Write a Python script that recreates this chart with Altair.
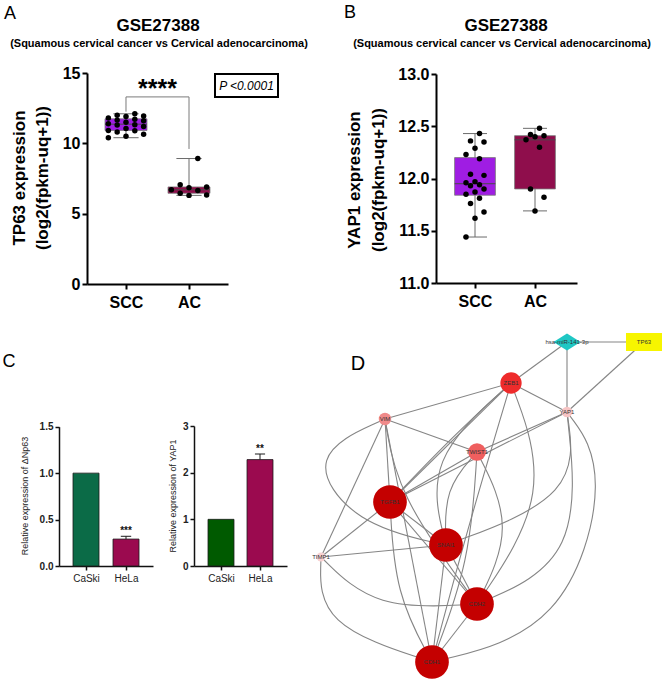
import altair as alt
import pandas as pd

W, H = 669, 686
FONT = "Liberation Sans"

# ---------------- data ----------------
groups = ["SCC", "AC"]
# Panel A: TP63 expression, GSE27388
tp63_scc = [12.10, 12.00, 11.95, 11.90, 11.80, 11.72, 11.65, 11.60, 11.50, 11.40,
            11.32, 11.30, 11.20, 11.05, 10.92, 10.90, 10.80, 10.65, 10.50, 10.40]
tp63_ac = [8.92, 7.05, 6.90, 6.85, 6.70, 6.65, 6.45, 6.32, 6.30]
# significance bracket (group position, value)
bracket_pos = [1, 1, 2, 2]
bracket_val = [12.25, 13.3, 13.3, 9.6]

# Panel B: YAP1 expression, GSE27388
yap1_scc = [12.43, 12.36, 12.35, 12.29, 12.23, 12.19, 12.04, 12.03, 11.97, 11.96,
            11.94, 11.93, 11.90, 11.87, 11.85, 11.81, 11.76, 11.68, 11.62, 11.44]
yap1_ac = [12.48, 12.42, 12.41, 12.40, 12.37, 12.30, 11.90, 11.82, 11.69]

# Panel C: qPCR
cell_lines = ["CaSki", "HeLa"]
np63_mean = [1.0, 0.29]
np63_sem = [0.0, 0.03]
np63_sig = ["", "***"]
yap1q_mean = [1.0, 2.28]
yap1q_sem = [0.0, 0.12]
yap1q_sig = ["", "**"]

# Panel D: network (layout coordinates)
node_names = ["hsa-miR-141-3p", "TP63", "ZEB1", "YAP1", "VIM", "TWIST1",
              "TGFB1", "SNAI1", "TIMP1", "CDH2", "CDH1"]
node_kind = ["miRNA", "TF", "gene", "gene", "gene", "gene",
             "gene", "gene", "gene", "gene", "gene"]
node_x = [267, 344, 211, 267, 85, 177, 90, 146, 21, 177, 132]
node_y = [22, 22, 63, 92, 99, 132, 182, 225, 237, 284, 342]
node_score = [0, 0, 5, 2, 3, 4, 6, 6, 1, 6, 6]
# (source, target, bend handles of the edge in layout coordinates)
edges = [
    ("hsa-miR-141-3p", "TP63", []),
    ("hsa-miR-141-3p", "ZEB1", []),
    ("hsa-miR-141-3p", "YAP1", []),
    ("TP63", "YAP1", []),
    ("ZEB1", "VIM", []),
    ("ZEB1", "YAP1", []),
    ("ZEB1", "TGFB1", []),
    ("ZEB1", "TGFB1", [[153, 116]]),
    ("ZEB1", "SNAI1", [[125, 140]]),
    ("ZEB1", "CDH1", [[166, 214]]),
    ("ZEB1", "CDH2", [[252, 173]]),
    ("VIM", "TWIST1", []),
    ("VIM", "TIMP1", []),
    ("VIM", "TGFB1", []),
    ("VIM", "CDH1", []),
    ("VIM", "CDH2", [[97, 174]]),
    ("VIM", "SNAI1", [[5, 135], [55, 205]]),
    ("YAP1", "TWIST1", []),
    ("YAP1", "TGFB1", []),
    ("YAP1", "SNAI1", [[279, 176]]),
    ("YAP1", "CDH2", [[282, 239]]),
    ("YAP1", "CDH1", [[310, 150], [265, 310]]),
    ("TWIST1", "TGFB1", []),
    ("TWIST1", "SNAI1", [[144, 169]]),
    ("TWIST1", "CDH2", [[215, 207]]),
    ("TWIST1", "CDH1", [[170, 242]]),
    ("TGFB1", "SNAI1", []),
    ("TGFB1", "TIMP1", []),
    ("TGFB1", "CDH2", []),
    ("TGFB1", "CDH1", [[95, 274]]),
    ("SNAI1", "TIMP1", []),
    ("SNAI1", "CDH2", []),
    ("SNAI1", "CDH1", []),
    ("CDH2", "CDH1", []),
    ("TIMP1", "CDH2", [[75, 290]]),
    ("TIMP1", "CDH1", [[19, 305]]),
]

BLANK = alt.Data(values=[{}])


def txt(text, x, y, size, weight="normal", angle=0, align="center",
        baseline="middle", style="normal", color="black"):
    return alt.Chart(BLANK).mark_text(
        text=text, fontSize=size, fontWeight=weight, angle=angle, align=align,
        baseline=baseline, font=FONT, fontStyle=style, color=color
    ).encode(x=alt.value(x), y=alt.value(y))


# ---------------- box plot panels (A, B) ----------------
def box_panel(scc, ac, xdom, xr, ydom, yr, yticks, yfmt, half, amp, colors):
    df = pd.DataFrame({"group": [groups[0]] * len(scc) + [groups[1]] * len(ac),
                       "value": list(scc) + list(ac)})
    df["pos"] = df["group"].map({groups[0]: 1, groups[1]: 2})
    xs = alt.Scale(domain=xdom, range=xr, nice=False, zero=False)
    ys = alt.Scale(domain=ydom, range=yr, nice=False, zero=False)
    xaxis = alt.Axis(orient="bottom", offset=yr[0] - H, values=[1, 2],
                     labelExpr=f"datum.value == 1 ? '{groups[0]}' : '{groups[1]}'",
                     title=None, grid=False, domainColor="black", domainWidth=2,
                     tickColor="black", tickWidth=2, tickSize=5, labelFont=FONT,
                     labelFontSize=16, labelFontWeight="bold", labelColor="black",
                     labelPadding=5, labelFlush=False, labelOverlap=False)
    yaxis = alt.Axis(orient="left", offset=-xr[0], values=yticks, format=yfmt,
                     title=None, grid=False, domainColor="black", domainWidth=2,
                     tickColor="black", tickWidth=2, tickSize=5, labelFont=FONT,
                     labelFontSize=16, labelFontWeight="bold", labelColor="black",
                     labelPadding=2, labelFlush=False, labelOverlap=False)
    color = alt.Color("group:N", scale=alt.Scale(domain=groups, range=colors), legend=None)

    stats = alt.Chart(df).transform_aggregate(
        q1="q1(value)", q3="q3(value)", med="median(value)",
        lo="min(value)", hi="max(value)", groupby=["group", "pos"]
    ).transform_calculate(
        xl=f"datum.pos - {half}", xh=f"datum.pos + {half}",
        cl="datum.pos - 0.2", ch="datum.pos + 0.2"
    )
    whisker = stats.mark_rule(color="#6b6b6b", strokeWidth=1).encode(
        x=alt.X("pos:Q", scale=xs, axis=xaxis),
        y=alt.Y("lo:Q", scale=ys, axis=yaxis), y2="hi:Q")
    cap_lo = stats.mark_rule(color="#6b6b6b", strokeWidth=1).encode(
        x=alt.X("cl:Q", scale=xs, axis=xaxis), x2="ch:Q",
        y=alt.Y("lo:Q", scale=ys, axis=yaxis))
    cap_hi = stats.mark_rule(color="#6b6b6b", strokeWidth=1).encode(
        x=alt.X("cl:Q", scale=xs, axis=xaxis), x2="ch:Q",
        y=alt.Y("hi:Q", scale=ys, axis=yaxis))
    box = stats.mark_rect(stroke="#7a7a7a", strokeWidth=0.8).encode(
        x=alt.X("xl:Q", scale=xs, axis=xaxis), x2="xh:Q",
        y=alt.Y("q1:Q", scale=ys, axis=yaxis), y2="q3:Q", color=color)
    median = stats.mark_rule(color="#4a4a4a", strokeWidth=1).encode(
        x=alt.X("xl:Q", scale=xs, axis=xaxis), x2="xh:Q",
        y=alt.Y("med:Q", scale=ys, axis=yaxis))
    pts = alt.Chart(df).transform_window(
        rn="row_number()", groupby=["group"],
        sort=[alt.SortField("value", order="descending")]
    ).transform_calculate(
        jx=f"datum.pos + {amp} * ((((datum.rn * 3) % 5) - 2) / 2)"
    ).mark_circle(size=30, color="black", opacity=1).encode(
        x=alt.X("jx:Q", scale=xs, axis=xaxis),
        y=alt.Y("value:Q", scale=ys, axis=yaxis))
    return alt.layer(whisker, cap_lo, cap_hi, box, median, pts), xs, ys, xaxis, yaxis


purple, maroon = "#9f1de3", "#8f0e4c"
panelA, xsA, ysA, xaA, yaA = box_panel(
    tp63_scc, tp63_ac, [0.381, 2.619], [87, 228], [0, 15], [284, 73],
    [0, 5, 10, 15], "d", 0.333, 0.28, [purple, maroon])
bdf = pd.DataFrame({"pos": bracket_pos, "val": bracket_val, "k": list(range(len(bracket_pos)))})
bracket = alt.Chart(bdf).mark_line(color="#7a7a7a", strokeWidth=1).encode(
    x=alt.X("pos:Q", scale=xsA, axis=xaA), y=alt.Y("val:Q", scale=ysA, axis=yaA), order="k:Q")
panelA = alt.layer(panelA, bracket)

panelB, *_ = box_panel(
    yap1_scc, yap1_ac, [0.35, 2.7], [436, 577], [11, 13], [283, 74],
    [11.0, 11.5, 12.0, 12.5, 13.0], ".1f", 0.34, 0.15, [purple, maroon])


# ---------------- bar panels (C) ----------------
def bar_panel(means, sems, sigs, xdom, xr, ydom, yr, yticks, yfmt, colors, half):
    df = pd.DataFrame({"line": cell_lines, "mean": means, "sem": sems, "sig": sigs})
    df["pos"] = list(range(1, len(cell_lines) + 1))
    xs = alt.Scale(domain=xdom, range=xr, nice=False, zero=False)
    ys = alt.Scale(domain=ydom, range=yr, nice=False, zero=False)
    xaxis = alt.Axis(orient="bottom", offset=yr[0] - H, values=[1, 2],
                     labelExpr=f"datum.value == 1 ? '{cell_lines[0]}' : '{cell_lines[1]}'",
                     title=None, grid=False, domainColor="#111", domainWidth=1.5,
                     tickColor="#111", tickWidth=1.5, tickSize=4, labelFont=FONT,
                     labelFontSize=10, labelColor="#222", labelPadding=3,
                     labelFlush=False, labelOverlap=False)
    yaxis = alt.Axis(orient="left", offset=-xr[0], values=yticks, format=yfmt,
                     title=None, grid=False, domainColor="#111", domainWidth=1.5,
                     tickColor="#111", tickWidth=1.5, tickSize=4, labelFont=FONT,
                     labelFontSize=10, labelFontWeight="bold", labelColor="#222",
                     labelPadding=2, labelFlush=False, labelOverlap=False)
    color = alt.Color("line:N", scale=alt.Scale(domain=cell_lines, range=colors), legend=None)
    base = alt.Chart(df).transform_calculate(
        xl=f"datum.pos - {half}", xh=f"datum.pos + {half}",
        cl="datum.pos - 0.13", ch="datum.pos + 0.13",
        top="datum.mean + datum.sem", zero="0")
    bars = base.mark_rect(stroke="#1a1a1a", strokeWidth=0.8).encode(
        x=alt.X("xl:Q", scale=xs, axis=xaxis), x2="xh:Q",
        y=alt.Y("mean:Q", scale=ys, axis=yaxis), y2="zero:Q", color=color)
    err = base.transform_filter("datum.sem > 0").mark_rule(color="#1a1a1a", strokeWidth=1).encode(
        x=alt.X("pos:Q", scale=xs, axis=xaxis),
        y=alt.Y("mean:Q", scale=ys, axis=yaxis), y2="top:Q")
    cap = base.transform_filter("datum.sem > 0").mark_rule(color="#1a1a1a", strokeWidth=1).encode(
        x=alt.X("cl:Q", scale=xs, axis=xaxis), x2="ch:Q",
        y=alt.Y("top:Q", scale=ys, axis=yaxis))
    sig = base.mark_text(font=FONT, fontSize=10, fontWeight="bold", baseline="alphabetic",
                         dy=-2, color="#111").encode(
        x=alt.X("pos:Q", scale=xs, axis=xaxis),
        y=alt.Y("top:Q", scale=ys, axis=yaxis), text="sig:N")
    return alt.layer(bars, err, cap, sig)


panelC1 = bar_panel(np63_mean, np63_sem, np63_sig, [0.325, 2.675], [59, 153],
                    [0, 1.5], [566, 426.7], [0, 0.5, 1.0, 1.5], ".1f",
                    ["#0b6b47", "#9b0a4f"], 0.325)
panelC2 = bar_panel(yap1q_mean, yap1q_sem, yap1q_sig, [0.3077, 2.692], [194, 287],
                    [0, 3], [566, 426], [0, 1, 2, 3], "d",
                    ["#005a00", "#9b0a4f"], 0.333)

# ---------------- network panel (D) ----------------
npos = {n: (x, y) for n, x, y in zip(node_names, node_x, node_y)}
rows = []
for i, (s, t, via) in enumerate(edges):
    pts = [npos[s]] + [tuple(v) for v in via] + [npos[t]]
    for k, (x, y) in enumerate(pts):
        rows.append({"edge": i, "k": k, "x": x, "y": y})
edf = pd.DataFrame(rows)
ndf = pd.DataFrame({"name": node_names, "kind": node_kind, "x": node_x,
                    "y": node_y, "score": node_score})

xsD = alt.Scale(domain=[0, 369], range=[300, 669], nice=False, zero=False)
ysD = alt.Scale(domain=[0, 366], range=[320, 686], nice=False, zero=False)
XD = alt.X("x:Q", scale=xsD, axis=None)
YD = alt.Y("y:Q", scale=ysD, axis=None)

edge_layer = alt.Chart(edf).mark_line(interpolate="basis", color="#858585",
                                      strokeWidth=1.1).encode(
    x=XD, y=YD, detail="edge:N", order="k:Q")
gene_layer = alt.Chart(ndf).transform_filter("datum.kind == 'gene'").mark_circle(
    opacity=1).encode(
    x=XD, y=YD,
    size=alt.Size("score:Q", scale=alt.Scale(domain=[1, 2, 3, 4, 5, 6],
                                             range=[80, 115, 155, 315, 455, 1135]),
                  legend=None),
    color=alt.Color("score:Q", scale=alt.Scale(
        domain=[1, 2, 3, 4, 5, 6],
        range=["#f8d2d2", "#f7c4c4", "#f08a8a", "#ef5f5f", "#ee2b2b", "#c40000"]),
        legend=None))
mirna_layer = alt.Chart(ndf).transform_filter("datum.kind == 'miRNA'").mark_point(
    shape="M0,-0.63L1,0L0,0.63L-1,0Z", filled=True, size=729, opacity=1,
    color="#1fc7c4").encode(x=XD, y=YD)
tf_layer = alt.Chart(ndf).transform_filter("datum.kind == 'TF'").mark_point(
    shape="M-1,-0.5L1,-0.5L1,0.5L-1,0.5Z", filled=True, size=1296, opacity=1,
    color="#f7f500").encode(x=XD, y=YD)
label_layer = alt.Chart(ndf).mark_text(font=FONT, fontSize=6, color="#333333").encode(
    x=XD, y=YD, text="name:N")
panelD = alt.layer(edge_layer, gene_layer, mirna_layer, tf_layer, label_layer)

# ---------------- annotations ----------------
notes = [
    txt("A", 10, 14, 18),
    txt("GSE27388", 158, 26, 17, "bold"),
    txt("(Squamous cervical cancer vs Cervical adenocarcinoma)", 159, 44, 11, "bold"),
    txt("TP63 expression", 20, 178, 17, "bold", angle=270),
    txt("(log2(fpkm-uq+1))", 43, 178, 17, "bold", angle=270),
    txt("****", 157.5, 97, 25, "bold", baseline="alphabetic"),
    alt.Chart(BLANK).mark_rect(fill="white", stroke="black", strokeWidth=2).encode(
        x=alt.value(215), x2=alt.value(278), y=alt.value(74), y2=alt.value(97)),
    txt("P <0.0001", 246.5, 86, 12, style="italic"),
    txt("B", 350, 13, 18),
    txt("GSE27388", 506, 26, 17, "bold"),
    txt("(Squamous cervical cancer vs Cervical adenocarcinoma)", 502, 44, 11, "bold"),
    txt("YAP1 expression", 355, 180, 17, "bold", angle=270),
    txt("(log2(fpkm-uq+1))", 379, 180, 17, "bold", angle=270),
    txt("C", 9, 362, 18),
    txt("Relative expression of \u0394Np63", 25, 496, 9, angle=270, color="#222"),
    txt("Relative expression of YAP1", 173, 496, 9, angle=270, color="#222"),
    txt("D", 358, 364, 20),
]

chart = alt.layer(panelA, panelB, panelC1, panelC2, panelD, *notes).resolve_scale(
    x="independent", y="independent", color="independent", size="independent"
).properties(
    width=W, height=H, autosize=alt.AutoSizeParams(type="none"), padding=0
).configure_view(stroke=None)

chart.save("out.html", embed_options={"renderer": "svg", "actions": False})
